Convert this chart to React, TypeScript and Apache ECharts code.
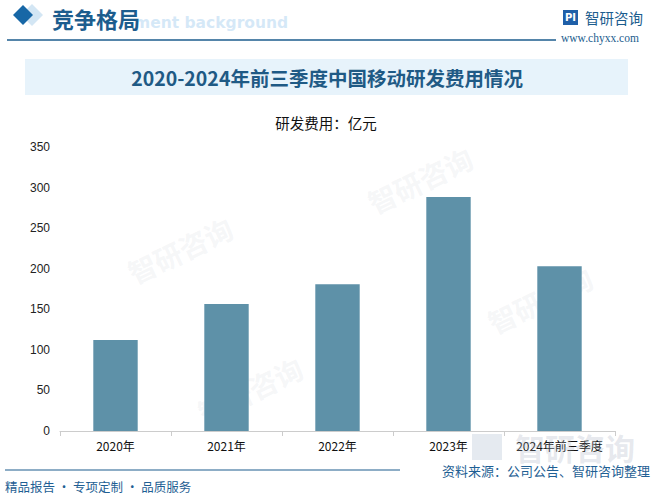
import React, { useEffect, useRef } from "react";
import * as echarts from "echarts";

const categories = ["2020年", "2021年", "2022年", "2023年", "2024年前三季度"];
const rdCost = [112, 156.5, 181, 288.5, 203];
const yTicks = { min: 0, max: 350, interval: 50 };

const titleText = "2020-2024年前三季度中国移动研发费用情况";
const unitText = "研发费用：亿元";
const sourceText = "资料来源：公司公告、智研咨询整理";
const footerText = "精品报告 · 专项定制 · 品质服务";

const CJK = "'Noto Sans CJK SC', 'Liberation Sans', sans-serif";

export default function App() {
  const ref = useRef<HTMLDivElement>(null);
  useEffect(() => {
    if (!ref.current) return;
    const chart = echarts.init(ref.current, null, { renderer: "svg" });
    const wm: any[] = [];
    const wmPos = [
      [180, 250], [420, 180], [250, 390], [540, 300]
    ];
    wmPos.forEach(([x, y]) => {
      wm.push({
        type: "text",
        x, y,
        rotation: Math.PI / 7,
        z: 0,
        silent: true,
        style: { text: "智研咨询", fill: "rgba(200,205,215,0.18)", font: "bold 28px " + CJK, textAlign: "center", textVerticalAlign: "middle" },
      });
    });
    chart.setOption({
      animation: false,
      backgroundColor: "#ffffff",
      grid: { left: 60, right: 41, top: 147, bottom: 66, containLabel: false },
      xAxis: {
        type: "category",
        data: categories,
        axisLine: { lineStyle: { color: "#cccccc" } },
        axisTick: { show: true, lineStyle: { color: "#cccccc" } },
        axisLabel: { color: "#111", fontSize: 12, fontFamily: CJK, margin: 8, interval: 0 },
      },
      yAxis: {
        type: "value",
        min: yTicks.min,
        max: yTicks.max,
        interval: yTicks.interval,
        axisLine: { show: false },
        axisTick: { show: false },
        splitLine: { show: false },
        axisLabel: { color: "#222", fontSize: 12, fontFamily: "'Liberation Sans', sans-serif", margin: 10 },
      },
      series: [
        {
          type: "bar",
          data: rdCost,
          barWidth: "40%",
          itemStyle: { color: "#5e91a8" },
          z: 3,
        },
      ],
      graphic: [
        ...wm,
        // header diamonds
        { type: "polygon", shape: { points: [[32, 4], [43, 15], [32, 26], [21, 15]] }, style: { fill: "#d3e6f4" }, z: 5 },
        { type: "polygon", shape: { points: [[23, 5], [33, 15], [23, 25], [13, 15]] }, style: { fill: "#1767a6" }, z: 6 },
        { type: "text", x: 134, y: 23, z: 4, style: { text: "ment background", fill: "rgba(200,225,245,0.75)", font: "bold 15.5px 'DejaVu Sans', sans-serif", textVerticalAlign: "middle" } },
        { type: "text", x: 52, y: 18, z: 6, style: { text: "竞争格局", fill: "#1c5d8e", font: "bold 22px " + CJK, textVerticalAlign: "middle" } },
        { type: "line", shape: { x1: 7, y1: 40, x2: 556, y2: 40 }, style: { stroke: "#1c5d8e", lineWidth: 1.5 }, z: 6 },
        // top-right logo
        { type: "rect", shape: { x: 563, y: 10, width: 15, height: 15 }, style: { fill: "#1f5fa8" }, z: 6 },
        { type: "text", x: 570.5, y: 17.5, z: 7, style: { text: "PI", fill: "#ffffff", font: "bold 10px 'DejaVu Sans'", textAlign: "center", textVerticalAlign: "middle" } },
        { type: "text", x: 585, y: 17, z: 6, style: { text: "智研咨询", fill: "#1c5d8e", font: "14.5px " + CJK, textVerticalAlign: "middle" } },
        { type: "text", x: 561, y: 38, z: 6, style: { text: "www.chyxx.com", fill: "#1c5d8e", font: "11.5px 'Liberation Serif', serif", textVerticalAlign: "middle" } },
        // title band
        { type: "rect", shape: { x: 25, y: 59, width: 603, height: 36 }, style: { fill: "#e7f3fb" }, z: 2 },
        { type: "text", x: 327, y: 77, z: 6, style: { text: titleText, fill: "#1f5a85", font: "bold 19.5px " + CJK, textAlign: "center", textVerticalAlign: "middle" } },
        { type: "text", x: 326, y: 122, z: 6, style: { text: unitText, fill: "#111", font: "14.5px " + CJK, textAlign: "center", textVerticalAlign: "middle" } },
        // bottom-right big watermark logo
        { type: "text", x: 515, y: 447, z: 1, style: { text: "智研咨询", fill: "rgba(170,180,195,0.3)", font: "bold 30px " + CJK, textVerticalAlign: "middle" } },
        { type: "rect", shape: { x: 472, y: 434, width: 30, height: 26 }, style: { fill: "rgba(170,185,205,0.3)" }, z: 1 },
        // footer
        { type: "line", shape: { x1: 5, y1: 470, x2: 400, y2: 470 }, style: { stroke: "#1c5d8e", lineWidth: 1.2 }, z: 6 },
        { type: "text", x: 5, y: 486, z: 6, style: { text: footerText, fill: "#1f5f94", font: "12.5px " + CJK, textVerticalAlign: "middle" } },
        { type: "text", x: 650, y: 470, z: 6, style: { text: sourceText, fill: "#1f5f94", font: "13px " + CJK, textAlign: "right", textVerticalAlign: "middle" } },
      ],
    });
    return () => chart.dispose();
  }, []);
  return <div ref={ref} style={{ position: "fixed", left: 0, top: 0, width: 656, height: 497 }} />;
}
